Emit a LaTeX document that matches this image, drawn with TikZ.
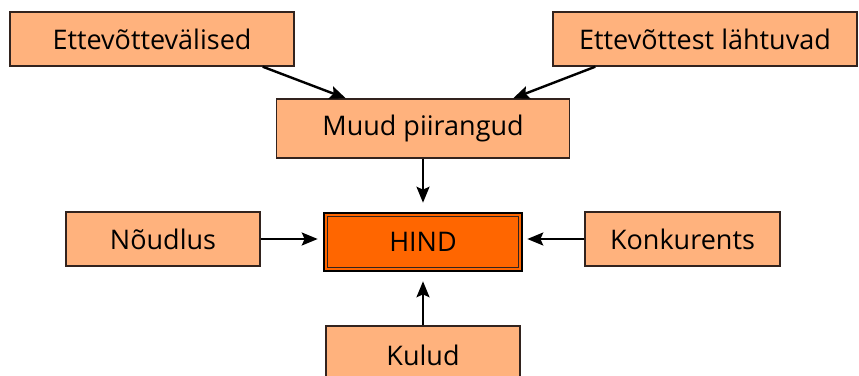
\documentclass[tikz,border=0pt]{standalone}
\usepackage{fontspec}
\setmainfont{Open Sans}
\usetikzlibrary{arrows.meta}
\definecolor{boxfill}{RGB}{255,178,125}
\definecolor{hindfill}{RGB}{255,102,0}
\definecolor{boxline}{RGB}{50,35,30}
\tikzset{
  factor/.style={draw=boxline, line width=1.4pt, fill=boxfill, inner sep=0pt,
    font=\fontsize{27}{30}\selectfont, text=black},
  link/.style={line width=2.4pt, -{Stealth[length=16pt,width=13pt,inset=3pt]}},
}
\begin{document}
\begin{tikzpicture}[x=1pt,y=-1pt]
  \useasboundingbox (0,0) rectangle (859,375);
  \clip (0,0) rectangle (859,375);
  % outer factors
  \node[factor, minimum width=284pt, minimum height=54pt] (ext) at (152,39) {Ettevõttevälised};
  \node[factor, minimum width=304pt, minimum height=54pt] (int) at (705,39) {Ettevõttest lähtuvad};
  \node[factor, minimum width=293pt, minimum height=59pt] (muud) at (423,128.5) {Muud piirangud};
  \node[factor, minimum width=194pt, minimum height=54pt] (noud) at (163,239) {Nõudlus};
  \node[factor, minimum width=195pt, minimum height=54pt] (konk) at (682.5,239) {Konkurents};
  \node[factor, minimum width=194pt, minimum height=58pt] (kulud) at (423,355) {Kulud};
  % price box with double frame
  \node[draw=black, line width=2.6pt, fill=hindfill, minimum width=198pt, minimum height=58pt,
    inner sep=0pt, font=\fontsize{27}{30}\selectfont] (hind) at (423,242) {HIND};
  \draw[boxline, line width=0.9pt] ([xshift=4.5pt,yshift=-4.5pt]hind.north west) rectangle ([xshift=-4.5pt,yshift=4.5pt]hind.south east);
  % connectors
  \draw[link] ([xshift=-32pt]ext.south east) -- ([xshift=70pt]muud.north west);
  \draw[link] ([xshift=43pt]int.south west) -- ([xshift=-57pt]muud.north east);
  \draw[link] (muud.south) -- ([yshift=9pt]hind.north);
  \draw[link] (noud.east) -- ([xshift=-5pt]hind.west |- noud.east);
  \draw[link] (konk.west) -- ([xshift=4pt]hind.east |- konk.west);
  \draw[link] (kulud.north) -- ([yshift=-9pt]hind.south);
\end{tikzpicture}
\end{document}
